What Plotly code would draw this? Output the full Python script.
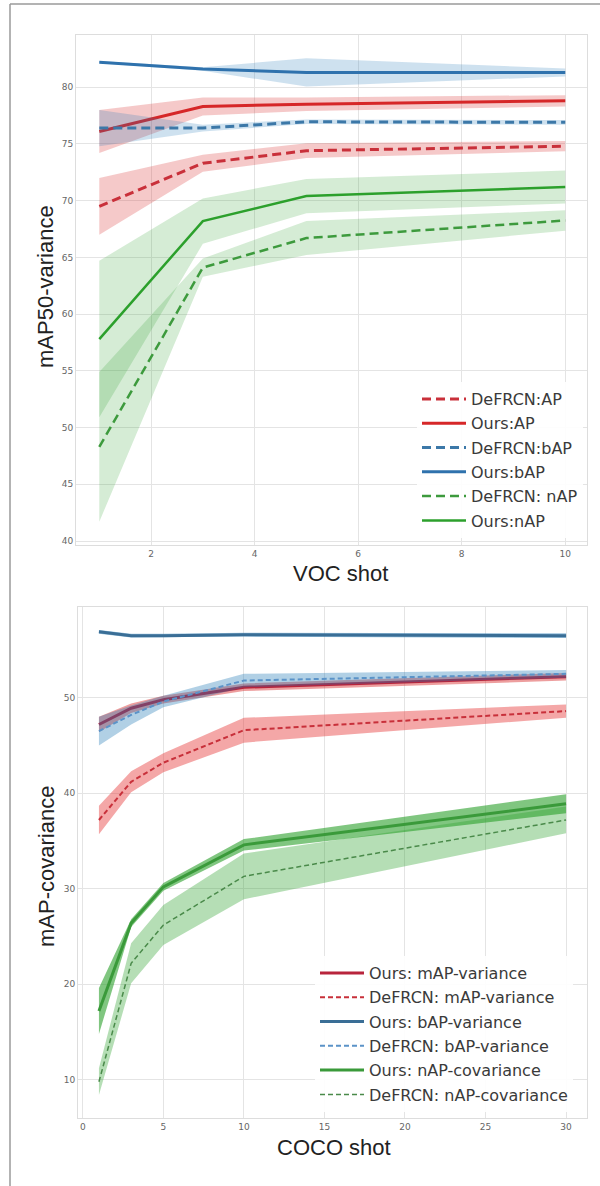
import plotly.graph_objects as go

# ---------------- data: VOC (top panel) ----------------
voc_shots = [1, 3, 5, 10]
voc_defrcn_ap = [69.5, 73.3, 74.4, 74.8]
voc_defrcn_ap_sd = [2.5, 0.75, 0.65, 0.45]
voc_ours_ap = [76.1, 78.3, 78.5, 78.8]
voc_ours_ap_sd = [1.9, 0.8, 0.6, 0.5]
voc_defrcn_bap = [76.4, 76.4, 76.95, 76.9]
voc_defrcn_bap_sd = [1.6, 0.3, 0.2, 0.2]
voc_ours_bap = [82.2, 81.6, 81.3, 81.3]
voc_ours_bap_sd = [0.1, 0.15, 1.25, 0.35]
voc_defrcn_nap = [48.3, 64.1, 66.7, 68.25]
voc_defrcn_nap_sd = [6.6, 0.8, 1.5, 0.9]
voc_ours_nap = [57.8, 68.2, 70.4, 71.2]
voc_ours_nap_sd = [6.9, 2.0, 1.5, 1.45]
voc_xticks = [2, 4, 6, 8, 10]
voc_yticks = [40, 45, 50, 55, 60, 65, 70, 75, 80]

# ---------------- data: COCO (bottom panel) ----------------
coco_shots = [1, 3, 5, 10, 30]
coco_ours_map = [47.2, 48.9, 49.8, 51.1, 52.2]
coco_ours_map_sd = [0.8, 0.5, 0.4, 0.4, 0.4]
coco_defrcn_map = [37.2, 41.2, 43.2, 46.6, 48.6]
coco_defrcn_map_sd = [1.5, 1.1, 1.0, 1.3, 0.7]
coco_ours_bap = [56.9, 56.5, 56.5, 56.6, 56.5]
coco_ours_bap_sd = [0.2, 0.2, 0.2, 0.2, 0.25]
coco_defrcn_bap = [46.5, 48.2, 49.6, 51.8, 52.5]
coco_defrcn_bap_sd = [1.5, 1.0, 0.6, 0.7, 0.4]
coco_ours_nap = [17.2, 26.4, 30.2, 34.6, 38.9]
coco_ours_nap_sd = [2.4, 0.4, 0.4, 0.6, 1.0]
coco_defrcn_nap = [9.8, 22.2, 26.2, 31.3, 37.2]
coco_defrcn_nap_sd = [1.4, 2.1, 2.1, 2.4, 1.4]
coco_xticks = [0, 5, 10, 15, 20, 25, 30]
coco_yticks = [10, 20, 30, 40, 50]

W, H = 600, 1186


def px_x(p):
    return p / W


def px_y(p):
    return 1 - p / H


fig = go.Figure()


def add_series(xs, mean, sd, name, color, fill, dash, width, xa, ya, legend, group):
    upper = [m + s for m, s in zip(mean, sd)]
    lower = [m - s for m, s in zip(mean, sd)]
    fig.add_trace(go.Scatter(
        x=list(xs) + list(xs)[::-1], y=upper + lower[::-1],
        fill="toself", fillcolor=fill, line=dict(width=0),
        mode="lines", hoverinfo="skip", showlegend=False,
        xaxis=xa, yaxis=ya, legendgroup=group))
    fig.add_trace(go.Scatter(
        x=xs, y=mean, mode="lines", name=name,
        line=dict(color=color, width=width, dash=dash),
        xaxis=xa, yaxis=ya, legend=legend, legendgroup=group))


RED, BLUE, GREEN = "#d62728", "#2f72ad", "#2ca02c"

# top panel
add_series(voc_shots, voc_defrcn_ap, voc_defrcn_ap_sd, "DeFRCN:AP", "#c9303a",
           "rgba(214,39,40,0.25)", "9px,5px", 3, "x", "y", "legend", "t1")
add_series(voc_shots, voc_ours_ap, voc_ours_ap_sd, "Ours:AP", RED,
           "rgba(214,39,40,0.25)", "solid", 3, "x", "y", "legend", "t2")
add_series(voc_shots, voc_defrcn_bap, voc_defrcn_bap_sd, "DeFRCN:bAP", "#3c78a8",
           "rgba(31,119,180,0.22)", "9px,5px", 3, "x", "y", "legend", "t3")
add_series(voc_shots, voc_ours_bap, voc_ours_bap_sd, "Ours:bAP", BLUE,
           "rgba(31,119,180,0.22)", "solid", 3, "x", "y", "legend", "t4")
add_series(voc_shots, voc_defrcn_nap, voc_defrcn_nap_sd, "DeFRCN: nAP", "#3d9a3d",
           "rgba(44,160,44,0.2)", "9px,5px", 2.5, "x", "y", "legend", "t5")
add_series(voc_shots, voc_ours_nap, voc_ours_nap_sd, "Ours:nAP", GREEN,
           "rgba(44,160,44,0.2)", "solid", 2.5, "x", "y", "legend", "t6")

# bottom panel
add_series(coco_shots, coco_ours_map, coco_ours_map_sd, "Ours: mAP-variance", "#b8243c",
           "rgba(214,39,40,0.45)", "solid", 3, "x2", "y2", "legend2", "b1")
add_series(coco_shots, coco_defrcn_map, coco_defrcn_map_sd, "DeFRCN: mAP-variance", "#c8303a",
           "rgba(230,60,60,0.45)", "5px,3px", 2, "x2", "y2", "legend2", "b2")
add_series(coco_shots, coco_ours_bap, coco_ours_bap_sd, "Ours: bAP-variance", "#3a6e96",
           "rgba(31,119,180,0.45)", "solid", 3, "x2", "y2", "legend2", "b3")
add_series(coco_shots, coco_defrcn_bap, coco_defrcn_bap_sd, "DeFRCN: bAP-variance", "#5b93c8",
           "rgba(31,119,180,0.35)", "5px,3px", 2, "x2", "y2", "legend2", "b4")
add_series(coco_shots, coco_ours_nap, coco_ours_nap_sd, "Ours: nAP-covariance", "#3a9a3a",
           "rgba(44,160,44,0.6)", "solid", 3, "x2", "y2", "legend2", "b5")
add_series(coco_shots, coco_defrcn_nap, coco_defrcn_nap_sd, "DeFRCN: nAP-covariance", "#4a8a4a",
           "rgba(44,160,44,0.35)", "5px,3px", 1.5, "x2", "y2", "legend2", "b6")

tickfont = dict(family="DejaVu Sans", size=9, color="#666666")
axis_common = dict(showgrid=True, gridcolor="#e4e4e4", gridwidth=1, zeroline=False,
                   showline=True, linecolor="#dddddd", linewidth=1, mirror=True,
                   ticks="", tickfont=tickfont, fixedrange=True)

fig.update_layout(
    width=W, height=H, margin=dict(l=0, r=0, t=0, b=0),
    paper_bgcolor="white", plot_bgcolor="white", hovermode=False,
    xaxis=dict(domain=[px_x(76), px_x(587)], range=[0.55, 10.42], tickvals=voc_xticks,
               anchor="y", **axis_common),
    yaxis=dict(domain=[px_y(545), px_y(35)], range=[39.65, 84.6], tickvals=voc_yticks,
               anchor="x", **axis_common),
    xaxis2=dict(domain=[px_x(78), px_x(587)], range=[-0.3, 31.3], tickvals=coco_xticks,
                anchor="y2", **axis_common),
    yaxis2=dict(domain=[px_y(1118), px_y(607)], range=[6.0, 59.5], tickvals=coco_yticks,
                anchor="x2", **axis_common),
    legend=dict(x=px_x(417), y=px_y(382), xanchor="left", yanchor="top",
                bgcolor="rgba(255,255,255,0.9)", borderwidth=0,
                font=dict(family="DejaVu Sans", size=16, color="#3a3a3a"),
                itemwidth=44, tracegroupgap=0.5),
    legend2=dict(x=px_x(315), y=px_y(956), xanchor="left", yanchor="top",
                 bgcolor="rgba(255,255,255,0.9)", borderwidth=0,
                 font=dict(family="DejaVu Sans", size=16, color="#3a3a3a"),
                 itemwidth=44, tracegroupgap=0.5),
)

title_font = dict(family="Liberation Sans", size=22, color="#222222")
fig.add_annotation(text="VOC shot", x=px_x(340), y=px_y(573), xref="paper", yref="paper",
                   showarrow=False, font=title_font, xanchor="center", yanchor="middle")
fig.add_annotation(text="mAP50-variance", x=px_x(46), y=px_y(287), xref="paper", yref="paper",
                   showarrow=False, font=title_font, textangle=-90,
                   xanchor="center", yanchor="middle")
fig.add_annotation(text="COCO shot", x=px_x(334), y=px_y(1147), xref="paper", yref="paper",
                   showarrow=False, font=title_font, xanchor="center", yanchor="middle")
fig.add_annotation(text="mAP-covariance", x=px_x(46), y=px_y(867), xref="paper", yref="paper",
                   showarrow=False, font=title_font, textangle=-90,
                   xanchor="center", yanchor="middle")

# outer frame (left and top edges)
fig.add_shape(type="line", xref="paper", yref="paper", x0=px_x(10), x1=px_x(10),
              y0=px_y(4), y1=0, line=dict(color="#9a9a9a", width=1.5))
fig.add_shape(type="line", xref="paper", yref="paper", x0=px_x(10), x1=1,
              y0=px_y(4), y1=px_y(4), line=dict(color="#9a9a9a", width=1.5))

fig.write_html("out.html")
